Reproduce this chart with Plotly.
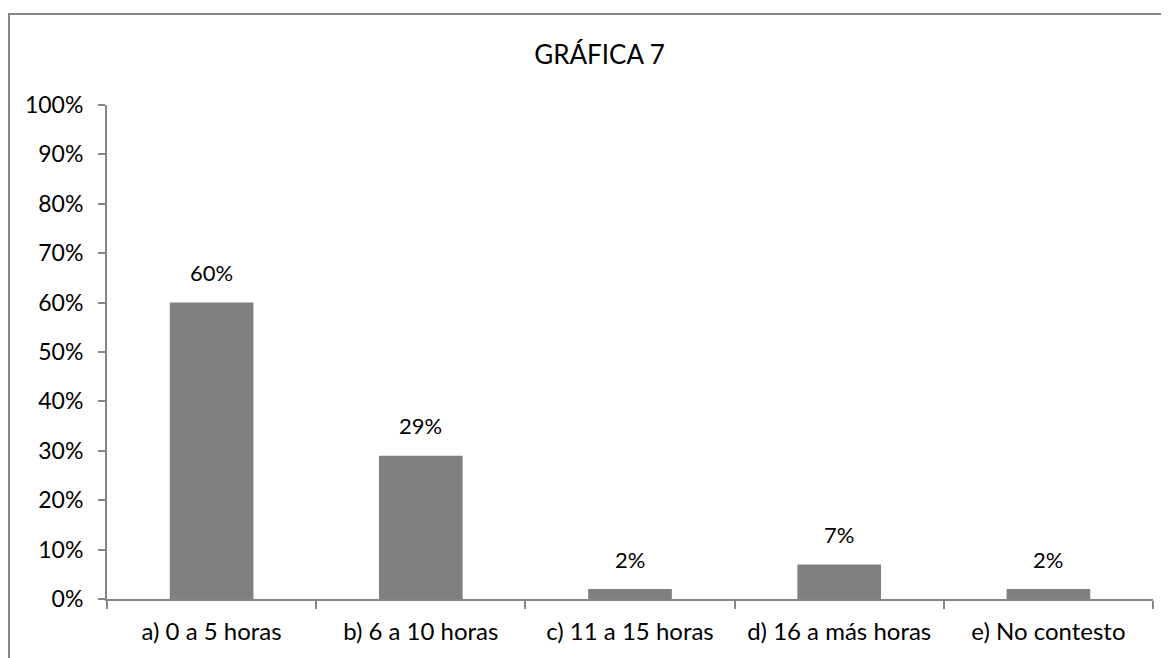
import plotly.graph_objects as go

categorias = ["a) 0 a 5 horas", "b) 6 a 10 horas", "c) 11 a 15 horas", "d) 16 a más horas", "e) No contesto"]
porcentajes = [0.60, 0.29, 0.02, 0.07, 0.02]
etiquetas = ["60%", "29%", "2%", "7%", "2%"]
ticks_y = [0, 0.1, 0.2, 0.3, 0.4, 0.5, 0.6, 0.7, 0.8, 0.9, 1.0]

fuente = "Lato, 'Open Sans', sans-serif"

fig = go.Figure()
fig.add_trace(go.Bar(
    x=categorias,
    y=porcentajes,
    marker=dict(color="#808080", line=dict(width=0)),
    width=0.4,
))

# etiquetas de datos sobre cada barra
for cat, val, txt in zip(categorias, porcentajes, etiquetas):
    fig.add_annotation(x=cat, y=val, text=txt, showarrow=False,
                       yanchor="middle", yshift=30,
                       font=dict(size=22, family=fuente, color="#000000"))

fig.update_layout(
    width=1169,
    height=658,
    margin=dict(l=99, r=24, t=97, b=67),
    paper_bgcolor="white",
    plot_bgcolor="white",
    showlegend=False,
    font=dict(family=fuente, size=23, color="#000000"),
    title=dict(text="GRÁFICA 7", x=0.506, xanchor="center", y=0.929, yanchor="middle",
               font=dict(size=26, family=fuente, color="#000000")),
)

fig.update_yaxes(
    range=[0, 1.0],
    tickvals=ticks_y,
    tickformat=".0%",
    tickfont=dict(size=23),
    showgrid=False,
    showline=True,
    linecolor="#868686",
    linewidth=2,
    ticks="outside",
    ticklen=7,
    tickcolor="#868686",
    tickwidth=2,
    zeroline=False,
    ticklabelstandoff=10,
)
fig.update_xaxes(
    tickfont=dict(size=24),
    showgrid=False,
    showline=True,
    linecolor="#868686",
    linewidth=2,
    ticks="outside",
    tickson="boundaries",
    ticklen=8,
    tickcolor="#868686",
    tickwidth=2,
    ticklabelstandoff=10,
)

# borde del área del gráfico (recortado a la derecha y abajo)
fig.add_shape(type="rect", xref="paper", yref="paper",
              x0=-0.0937, x1=1.2, y0=-0.3, y1=1.184,
              line=dict(color="#868686", width=2), fillcolor="rgba(0,0,0,0)", layer="below")

fig.write_html("out.html")
